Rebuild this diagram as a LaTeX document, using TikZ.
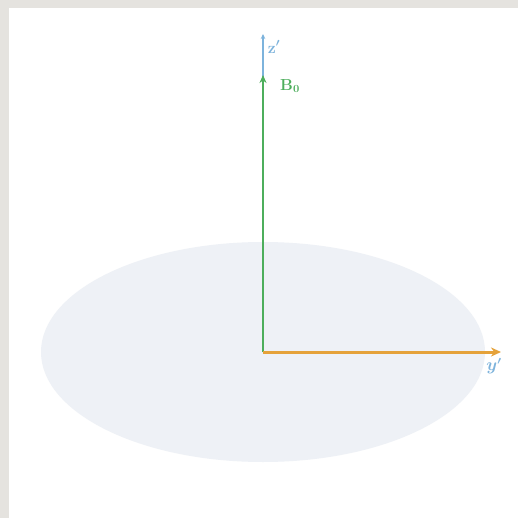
\documentclass[tikz,border=0pt]{standalone}
\usetikzlibrary{arrows.meta}
\definecolor{frame}{HTML}{E5E3DF}
\definecolor{disk}{HTML}{EEF1F6}
\definecolor{axisblue}{HTML}{7DB3DC}
\definecolor{bgreen}{HTML}{4DAE5C}
\definecolor{yorange}{HTML}{E5A23A}
\begin{document}
\begin{tikzpicture}[x=1pt,y=-1pt,
  axisline/.style={draw=axisblue,line width=1.2pt,-{Stealth[length=5pt,width=4.5pt]}},
  fieldarrow/.style={draw=bgreen,line width=2pt,-{Stealth[length=8pt,width=7pt]}},
  yarrow/.style={draw=yorange,line width=3pt,-{Stealth[length=10pt,width=9pt]}},
  lbl/.style={inner sep=0pt,font=\boldmath\bfseries\fontsize{16}{18}\selectfont}]
\useasboundingbox (0,0) rectangle (518,518);
\fill[frame] (0,0) rectangle (518,518);
\fill[white] (9,8) rectangle (518,518);
\fill[disk] (263,352) ellipse [x radius=222, y radius=110];
\coordinate (o) at (263,352);
\coordinate (ztop) at (263,34);
\coordinate (btop) at (263,75);
\coordinate (ytip) at (501,352);
\draw[axisline] (o) -- (ztop);
\draw[fieldarrow] (o) -- (btop);
\draw[yarrow] (o) -- (ytip);
\node[lbl,text=axisblue] (zl) at (274,47) {z$'$};
\node[lbl,text=bgreen] (bl) at (290,86) {B$_0$};
\node[lbl,text=axisblue] (yl) at (494,366) {$y'$};
\end{tikzpicture}
\end{document}
